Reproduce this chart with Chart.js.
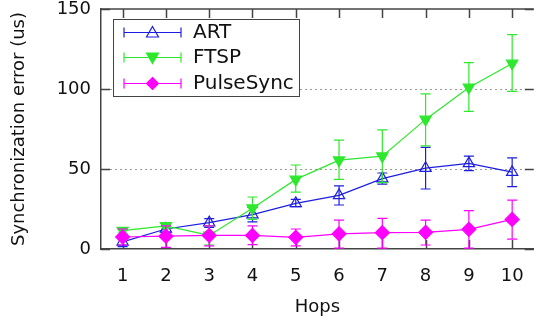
<!DOCTYPE html>
<html>
<head>
<meta charset="utf-8">
<title>Synchronization error vs hops</title>
<script src="https://cdn.jsdelivr.net/npm/chart.js@4.4.1/dist/chart.umd.min.js"></script>
<style>
    html, body { margin: 0; padding: 0; background: #fff; overflow: hidden; }
    #wrap { width: 538px; height: 322px; overflow: hidden; }
    canvas { display: block; }
</style>
</head>
<body>
<div id="wrap"><canvas id="sync-chart" width="542" height="322"></canvas></div>
<script>
// Hop counts (x axis) and y axis ticks
const hops = [1, 2, 3, 4, 5, 6, 7, 8, 9, 10];
const yTicks = [0, 50, 100, 150];

// ART: mean error with lower/upper bounds
const artMean = [4.5, 12.5, 16.5, 21.5, 28.5, 33.5, 44, 50.5, 53.5, 48];
const artLow  = [1.5, 10.5, 13.5, 17, 26.5, 27.5, 40.5, 37.5, 49, 39];
const artHigh = [7.5, 14.5, 19, 26, 31, 39.5, 47.5, 63.5, 58, 57];

// FTSP
const ftspMean = [11.5, 14.5, 8.5, 25.5, 43.5, 55.5, 58, 81, 101, 116];
const ftspLow  = [10, 13, 2.5, 18.5, 35.5, 43.5, 41.5, 64.5, 86, 98.5];
const ftspHigh = [13, 16, 14.5, 32.5, 52.5, 68, 74.5, 97, 116.5, 134];

// PulseSync
const pulseMean = [7.5, 8, 8.5, 8.5, 7.3, 9.5, 10.2, 10.4, 12.3, 18.5];
const pulseLow  = [2.5, 1, 2, 2.7, 2, 0.5, 0.5, 2.5, 0.6, 6.2];
const pulseHigh = [12.5, 14.5, 14.5, 14.5, 12.5, 18, 19.2, 18, 24, 30.6];

const FONT = "'DejaVu Sans', Verdana, sans-serif";
const AXIS_COLOR = '#444';
const TICK_LEN = 9;
const CAP = 5;

const series = [
    { label: 'ART', mean: artMean, low: artLow, high: artHigh, color: 'rgb(30, 30, 225)', marker: 'triangle', fill: false, order: 3 },
    { label: 'FTSP', mean: ftspMean, low: ftspLow, high: ftspHigh, color: 'rgb(45, 232, 45)', marker: 'triangleDown', fill: true, order: 2 },
    { label: 'PulseSync', mean: pulseMean, low: pulseLow, high: pulseHigh, color: 'rgb(255, 0, 255)', marker: 'diamond', fill: true, order: 1 }
];

const toPoints = (values) => hops.map((h, i) => ({ x: h, y: values[i] }));

// Marker drawing shared by the legend
const drawMarker = (ctx, type, x, y, r, color, fill) => {
    ctx.save();
    ctx.beginPath();
    if (type === 'triangle') {
        ctx.moveTo(x, y - r);
        ctx.lineTo(x + r, y + r * 0.75);
        ctx.lineTo(x - r, y + r * 0.75);
    } else if (type === 'triangleDown') {
        ctx.moveTo(x, y + r);
        ctx.lineTo(x + r, y - r * 0.75);
        ctx.lineTo(x - r, y - r * 0.75);
    } else {
        ctx.moveTo(x, y - r);
        ctx.lineTo(x + r, y);
        ctx.lineTo(x, y + r);
        ctx.lineTo(x - r, y);
    }
    ctx.closePath();
    ctx.lineWidth = 1.2;
    ctx.strokeStyle = color;
    if (fill) {
        ctx.fillStyle = color;
        ctx.fill();
    }
    ctx.stroke();
    ctx.restore();
};

// Error bars drawn under each dataset's markers
const errorBarPlugin = {
    id: 'errorBars',
    beforeDatasetDraw(chart, args) {
        const ds = chart.data.datasets[args.index];
        const { ctx, scales: { x, y } } = chart;
        ctx.save();
        ctx.strokeStyle = ds.borderColor;
        ctx.lineWidth = 1.2;
        hops.forEach((h, i) => {
            const px = x.getPixelForValue(h);
            const yl = y.getPixelForValue(ds.errLow[i]);
            const yh = y.getPixelForValue(ds.errHigh[i]);
            ctx.beginPath();
            ctx.moveTo(px, yl);
            ctx.lineTo(px, yh);
            ctx.moveTo(px - CAP, yl);
            ctx.lineTo(px + CAP, yl);
            ctx.moveTo(px - CAP, yh);
            ctx.lineTo(px + CAP, yh);
            ctx.stroke();
        });
        ctx.restore();
    }
};

// Frame, inward ticks, dotted grid and the boxed legend
const framePlugin = {
    id: 'frame',
    beforeDatasetsDraw(chart) {
        const { ctx, chartArea: a, scales: { x, y } } = chart;
        ctx.save();
        // dotted grid lines
        ctx.strokeStyle = '#999';
        ctx.lineWidth = 1;
        ctx.setLineDash([2, 3]);
        [50, 100].forEach(v => {
            const py = Math.round(y.getPixelForValue(v)) + 0.5;
            ctx.beginPath();
            ctx.moveTo(a.left + TICK_LEN, py);
            ctx.lineTo(a.right - TICK_LEN, py);
            ctx.stroke();
        });
        ctx.setLineDash([]);
        // top border
        ctx.strokeStyle = AXIS_COLOR;
        ctx.lineWidth = 1.5;
        ctx.beginPath();
        ctx.moveTo(a.left, a.top);
        ctx.lineTo(a.right, a.top);
        ctx.stroke();
        // ticks pointing into the plot
        ctx.beginPath();
        hops.forEach(h => {
            const px = Math.round(x.getPixelForValue(h)) + 0.5;
            ctx.moveTo(px, a.top);
            ctx.lineTo(px, a.top + TICK_LEN);
            ctx.moveTo(px, a.bottom);
            ctx.lineTo(px, a.bottom - TICK_LEN);
        });
        yTicks.forEach(v => {
            const py = Math.round(y.getPixelForValue(v)) + 0.5;
            ctx.moveTo(a.left, py);
            ctx.lineTo(a.left + TICK_LEN, py);
            ctx.moveTo(a.right, py);
            ctx.lineTo(a.right - TICK_LEN, py);
        });
        ctx.stroke();
        ctx.restore();
    },
    afterDraw(chart) {
        const { ctx } = chart;
        const box = { x: 113.5, y: 19.5, w: 186, h: 77 };
        const rows = [32, 57, 83];
        ctx.save();
        ctx.fillStyle = '#fff';
        ctx.fillRect(box.x, box.y, box.w, box.h);
        ctx.strokeStyle = AXIS_COLOR;
        ctx.lineWidth = 1;
        ctx.strokeRect(box.x, box.y, box.w, box.h);
        series.forEach((s, i) => {
            const ry = rows[i] + 0.5;
            ctx.strokeStyle = s.color;
            ctx.lineWidth = 1.2;
            ctx.beginPath();
            ctx.moveTo(124, ry);
            ctx.lineTo(181, ry);
            ctx.moveTo(124, ry - CAP);
            ctx.lineTo(124, ry + CAP);
            ctx.moveTo(181, ry - CAP);
            ctx.lineTo(181, ry + CAP);
            ctx.stroke();
            drawMarker(ctx, s.marker, 152.5, ry, 6, s.color, s.fill);
            ctx.fillStyle = '#111';
            ctx.font = `20px ${FONT}`;
            ctx.textBaseline = 'middle';
            ctx.textAlign = 'left';
            ctx.fillText(s.label, 193, rows[i] + 1);
        });
        ctx.restore();
    }
};

// Keep tick label overhang from pushing the plot area inward
const noOverhang = (scale) => {
    scale.paddingTop = 0;
    scale.paddingBottom = 0;
    scale.paddingLeft = 0;
    scale.paddingRight = 0;
};

const pointStyles = { triangle: 'triangle', triangleDown: 'triangle', diamond: 'rectRot' };

const ctx = document.getElementById('sync-chart').getContext('2d');
new Chart(ctx, {
    type: 'line',
    data: {
        datasets: series.map(s => ({
            label: s.label,
            data: toPoints(s.mean),
            errLow: s.low,
            errHigh: s.high,
            order: s.order,
            borderColor: s.color,
            backgroundColor: s.fill ? s.color : 'rgba(0, 0, 0, 0)',
            borderWidth: 1.2,
            pointStyle: pointStyles[s.marker],
            rotation: s.marker === 'triangleDown' ? 180 : 0,
            pointRadius: s.marker === 'diamond' ? 7 : 6.5,
            pointBorderWidth: 1.2,
            pointBackgroundColor: s.fill ? s.color : 'rgba(0, 0, 0, 0)',
            tension: 0
        }))
    },
    options: {
        responsive: false,
        animation: false,
        devicePixelRatio: 1,
        layout: { padding: { left: 0, right: 1, top: 9, bottom: 0 } },
        plugins: {
            legend: { display: false },
            tooltip: { enabled: false }
        },
        scales: {
            x: {
                type: 'linear',
                min: 0.5,
                max: 10.5,
                afterBuildTicks: (scale) => {
                    scale.ticks = hops.map(v => ({ value: v }));
                },
                afterFit: (scale) => {
                    scale.height = 73;
                    noOverhang(scale);
                },
                grid: { display: false, drawTicks: false },
                border: { display: true, color: AXIS_COLOR, width: 1.5 },
                ticks: {
                    padding: 17,
                    color: '#111',
                    font: { family: FONT, size: 18 },
                    maxRotation: 0
                },
                title: {
                    display: true,
                    text: 'Hops',
                    color: '#111',
                    font: { family: FONT, size: 18 },
                    padding: { top: 0, bottom: 4 }
                }
            },
            y: {
                min: 0,
                max: 150,
                afterBuildTicks: (scale) => {
                    scale.ticks = yTicks.map(v => ({ value: v }));
                },
                afterFit: (scale) => {
                    scale.width = 101;
                    noOverhang(scale);
                },
                grid: { display: false, drawTicks: false },
                border: { display: true, color: AXIS_COLOR, width: 1.5 },
                ticks: {
                    padding: 10,
                    color: '#111',
                    font: { family: FONT, size: 18 }
                },
                title: {
                    display: true,
                    text: 'Synchronization error (us)',
                    color: '#111',
                    font: { family: FONT, size: 18 },
                    padding: { top: 9, bottom: 0 }
                }
            }
        }
    },
    plugins: [errorBarPlugin, framePlugin]
});
</script>
</body>
</html>
